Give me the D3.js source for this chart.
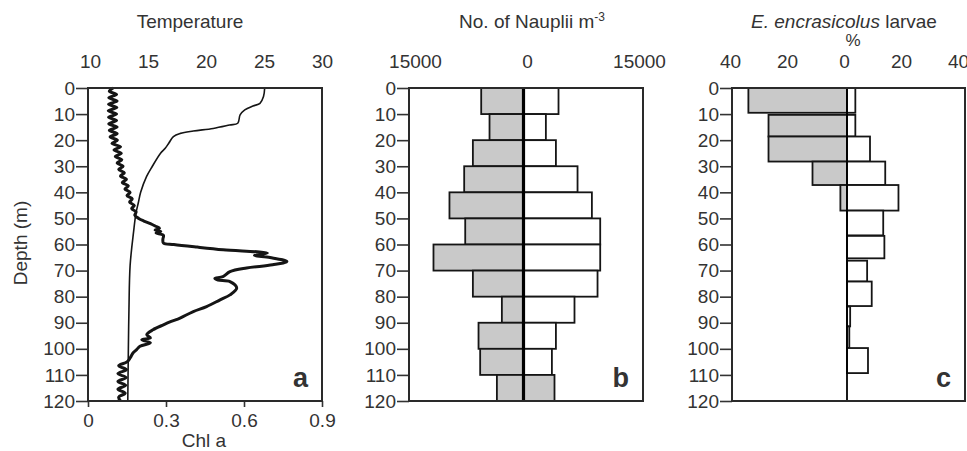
<!DOCTYPE html>
<html><head><meta charset="utf-8">
<script src="https://cdn.jsdelivr.net/npm/d3@7"></script>
<style>
body{margin:0;background:#fff;}
svg{display:block;}
text{font-family:"Liberation Sans",Arial,sans-serif;fill:#333;}
</style></head>
<body><svg id="chart" width="967" height="451"></svg>
<script>
// ---------- data ----------
const depthTicks = [0,10,20,30,40,50,60,70,80,90,100,110,120];
const tempTicks = [10,15,20,25,30];
const chlTicks = [0,0.3,0.6,0.9];
const naupliiTicks = [-15000,0,15000];
const larvaeTicks = [-40,-20,0,20,40];

// Panel a: temperature profile
const tempDepth = [0,3.3,5.9,6.9,8.4,10.3,13.5,14.2,15.5,16.5,17.4,18.6,21.2,23.1,25,30,34,40,44,48,55,68,85,100,120];
const tempValue = [25.1,25.0,24.7,24.1,23.4,23.0,22.8,22.1,20.7,19.0,17.9,17.3,16.9,16.6,16.2,15.5,15.0,14.5,14.3,14.1,13.9,13.6,13.5,13.45,13.4];

// Panel a: chlorophyll a profile
const chlDepth = [0,1.25,2.5,3.75,5,6.25,7.5,8.75,10,11.25,12.5,13.75,15,16.25,17.5,18.75,20,21.25,22.5,23.75,25,26.25,27.5,28.75,30,31.25,32.5,33.75,35,36.25,37.5,38.75,40,41.25,42.5,43.75,45,46.25,47.5,48.75,50,51,52,53,53.8,54.4,55,55.6,56.5,58,59.4,60,61,62,63.3,64.2,65,66.5,67.8,69,70.4,72.3,73,73.6,74.2,76.7,79.3,81.2,83.8,85.7,88.2,89.5,90.8,92.7,94.6,95.8,96.5,97.7,99,100.3,101.6,103.5,105,106.5,108,109.5,111,112.5,114,115.5,117,118.5,120];
const chlValue = [0.097,0.082,0.110,0.080,0.112,0.079,0.111,0.078,0.110,0.079,0.110,0.080,0.112,0.082,0.112,0.085,0.113,0.092,0.125,0.100,0.128,0.105,0.130,0.112,0.135,0.118,0.140,0.125,0.148,0.132,0.155,0.142,0.162,0.150,0.170,0.160,0.178,0.168,0.185,0.180,0.195,0.215,0.240,0.260,0.275,0.258,0.280,0.262,0.290,0.288,0.290,0.330,0.420,0.520,0.690,0.640,0.700,0.765,0.710,0.610,0.546,0.519,0.488,0.500,0.546,0.572,0.546,0.508,0.456,0.405,0.354,0.320,0.290,0.250,0.226,0.240,0.207,0.240,0.200,0.187,0.173,0.162,0.150,0.118,0.148,0.115,0.147,0.115,0.145,0.115,0.143,0.118,0.125];

// Panel b: nauplii per m3 in 10 m layers
const naupliiTop = [0,10,20,30,40,50,60,70,80,90,100,110];
const naupliiLeft = [5690,4570,6810,7980,9960,7840,12110,6810,2910,6050,5830,3580];
const naupliiRight = [4710,3010,4360,7270,9200,10320,10320,9960,6860,4360,3820,4170];
const naupliiRightGrey = [false,false,false,false,false,false,false,false,false,false,false,true];

// Panel c: E. encrasicolus larvae (%)
const larvaeTop = [0,10.3,18.6,28.2,37.2,47,56.7,66.2,74.2,83.8,91.4,99.7];
const larvaeBottom = [9.5,18.6,28.2,37.2,47,56.5,65.3,74.2,83.6,91.4,99.7,109.3];
const larvaeLeft = [34.3,27.3,27.3,12,2.3];
const larvaeRight = [2.9,2.9,8,13.3,17.9,12.6,13,7,8.6,1.1,0.8,7.3];

// ---------- drawing ----------
const svg = d3.select("#chart");
const FS = 19;
const grey = "#c9c9c9", ink = "#151515";
const yTop = 88, yBot = 401;
const y = d3.scaleLinear().domain([0,120]).range([yTop,yBot]);

const panels = [
  {x0:88, x1:322, letter:"a"},
  {x0:409, x1:643, letter:"b"},
  {x0:732, x1:965, letter:"c"}
];

function yAxis(p){
  const g = svg.append("g").attr("transform",`translate(${p.x0},0)`)
    .call(d3.axisLeft(y).tickValues(depthTicks).tickSize(12).tickPadding(1));
  g.select(".domain").remove();
  g.selectAll(".tick line").attr("stroke","#333").attr("stroke-width",1.6);
  g.selectAll("text").attr("font-size",FS).attr("fill","#333").style("font-family","Liberation Sans, Arial");
}
function frame(p){
  svg.append("rect").attr("x",p.x0).attr("y",yTop).attr("width",p.x1-p.x0).attr("height",yBot-yTop)
    .attr("fill","none").attr("stroke","#2a2a2a").attr("stroke-width",2);
  svg.append("text").attr("x",p.x1-14).attr("y",387).attr("text-anchor","end")
    .attr("font-size",27).attr("font-weight","bold").attr("fill","#111").text(p.letter);
}
function topAxis(scale, ticks, fmt){
  const g = svg.append("g").attr("transform",`translate(0,${yTop})`)
    .call(d3.axisTop(scale).tickValues(ticks).tickSize(0).tickPadding(20).tickFormat(fmt));
  g.select(".domain").remove();
  g.selectAll("text").attr("font-size",FS).attr("fill","#333").style("font-family","Liberation Sans, Arial");
}

// Panel a
const pa = panels[0];
const tX = d3.scaleLinear().domain([10,30]).range([pa.x0,pa.x1]);
const cX = d3.scaleLinear().domain([0,0.9]).range([pa.x0,pa.x1]);
topAxis(tX.copy().range([90,322]), tempTicks, d3.format("d"));
const gb = svg.append("g").attr("transform",`translate(0,${yBot})`)
  .call(d3.axisBottom(cX).tickValues(chlTicks).tickSize(6).tickPadding(7).tickFormat(d=> d===0?"0":d3.format(".1f")(d)));
gb.select(".domain").remove();
gb.selectAll(".tick line").attr("stroke","#333").attr("stroke-width",1.6);
gb.selectAll("text").attr("font-size",FS).attr("fill","#333").style("font-family","Liberation Sans, Arial");

const tempLine = d3.line().x((d,i)=>tX(tempValue[i])).y(d=>y(d)).curve(d3.curveCatmullRom.alpha(0.5));
svg.append("path").attr("d",tempLine(tempDepth)).attr("fill","none").attr("stroke",ink).attr("stroke-width",1.6);
const chlLine = d3.line().x((d,i)=>cX(chlValue[i])).y(d=>y(d)).curve(d3.curveCatmullRom.alpha(0.5));
svg.append("path").attr("d",chlLine(chlDepth)).attr("fill","none").attr("stroke",ink).attr("stroke-width",3).attr("stroke-linejoin","round");

// Panel b
const nX = d3.scaleLinear().domain([-15000,15000]).range([412,635]);
topAxis(nX.copy().range([415,639]), naupliiTicks, d=>String(Math.abs(d)));
svg.append("g").selectAll("rect").data(naupliiTop).join("rect")
  .attr("x",(d,i)=>nX(-naupliiLeft[i])).attr("y",d=>y(d))
  .attr("width",(d,i)=>nX(0)-nX(-naupliiLeft[i])).attr("height",d=>y(d+10)-y(d))
  .attr("fill",grey).attr("stroke",ink).attr("stroke-width",1.8);
svg.append("g").selectAll("rect").data(naupliiTop).join("rect")
  .attr("x",nX(0)).attr("y",d=>y(d))
  .attr("width",(d,i)=>nX(naupliiRight[i])-nX(0)).attr("height",d=>y(d+10)-y(d))
  .attr("fill",(d,i)=>naupliiRightGrey[i]?grey:"#fff").attr("stroke",ink).attr("stroke-width",1.8);
svg.append("line").attr("x1",nX(0)).attr("x2",nX(0)).attr("y1",yTop).attr("y2",yBot)
  .attr("stroke","#000").attr("stroke-width",3.2);

// Panel c
const lX = d3.scaleLinear().domain([-40,40]).range([732,962]);
topAxis(lX.copy().range([730,958]), larvaeTicks, d=>String(Math.abs(d)));
svg.append("g").selectAll("rect").data(larvaeLeft).join("rect")
  .attr("x",d=>lX(-d)).attr("y",(d,i)=>y(larvaeTop[i]))
  .attr("width",d=>lX(0)-lX(-d)).attr("height",(d,i)=>y(larvaeBottom[i])-y(larvaeTop[i]))
  .attr("fill",grey).attr("stroke",ink).attr("stroke-width",1.8);
svg.append("g").selectAll("rect").data(larvaeRight).join("rect")
  .attr("x",lX(0)).attr("y",(d,i)=>y(larvaeTop[i]))
  .attr("width",d=>lX(d)-lX(0)).attr("height",(d,i)=>y(larvaeBottom[i])-y(larvaeTop[i]))
  .attr("fill","#fff").attr("stroke",ink).attr("stroke-width",1.8);
svg.append("line").attr("x1",lX(0)).attr("x2",lX(0)).attr("y1",yTop).attr("y2",yBot)
  .attr("stroke","#000").attr("stroke-width",1.8);

panels.forEach(p=>{ yAxis(p); frame(p); });

// Titles
svg.append("text").attr("x",190).attr("y",28).attr("text-anchor","middle").attr("font-size",FS).text("Temperature");
const nt = svg.append("text").attr("x",532).attr("y",28).attr("text-anchor","middle").attr("font-size",FS);
nt.append("tspan").text("No. of Nauplii m");
nt.append("tspan").attr("font-size",12).attr("dy",-7).text("-3");
const lt = svg.append("text").attr("x",844).attr("y",28).attr("text-anchor","middle").attr("font-size",FS);
lt.append("tspan").attr("font-style","italic").text("E. encrasicolus");
lt.append("tspan").text(" larvae");
svg.append("text").attr("x",853).attr("y",46).attr("text-anchor","middle").attr("font-size",17).text("%");
svg.append("text").attr("x",204).attr("y",447).attr("text-anchor","middle").attr("font-size",FS).text("Chl a");
svg.append("text").attr("transform","translate(27,243) rotate(-90)").attr("text-anchor","middle").attr("font-size",FS).text("Depth  (m)");
</script></body></html>
